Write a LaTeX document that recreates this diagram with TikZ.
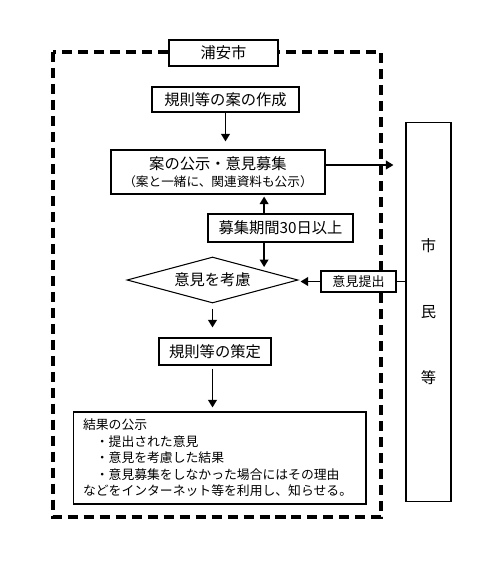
\documentclass[tikz,border=0pt]{standalone}
\usepackage{fontspec}
\setmainfont{Noto Sans CJK JP}
\usetikzlibrary{arrows.meta,shapes.geometric,calc}

\tikzset{
  box/.style={draw, line width=0.6pt, fill=white, inner sep=0pt, align=center,
    font=\fontsize{8.7}{10}\selectfont},
  arr/.style={line width=1.1pt, -{Triangle[length=0.15cm,width=0.17cm]}},
}

\begin{document}
\begin{tikzpicture}[x=0.02cm, y=-0.02cm]
\useasboundingbox (0,0) rectangle (500,565);

% cadre en pointilles
\draw[line width=2.1pt, dash pattern=on 5.7pt off 3.4pt] (53,52) rectangle (381,517);

\node[box, minimum width=2.18cm, minimum height=0.52cm] (city) at (223.5,53) {浦安市};
\node[box, minimum width=2.94cm, minimum height=0.5cm] (draft) at (225.5,99.5) {規則等の案の作成};
\node[box, minimum width=4.28cm, minimum height=0.88cm] (publish) at (218,172)
  {案の公示・意見募集\\[-0.5pt]{\fontsize{7.2}{8}\selectfont（案と一緒に、関連資料も公示）}};
\node[box, minimum width=2.9cm, minimum height=0.56cm] (period) at (280.5,228) {募集期間30日以上};
\node[box, diamond, aspect=3.7, minimum width=3.42cm, minimum height=0.92cm] (judge) at (212.5,280) {意見を考慮};
\node[box, minimum width=1.5cm, minimum height=0.42cm, font=\fontsize{7.4}{9}\selectfont] (submit) at (358.5,281.5) {意見提出};
\node[box, minimum width=2.24cm, minimum height=0.54cm] (decide) at (215,351.5) {規則等の策定};
\node[box, minimum width=5.86cm, minimum height=1.84cm, inner xsep=0.2cm, text width=5.46cm, align=left,
  font=\fontsize{7.3}{9.4}\selectfont] (result) at (219.5,458)
  {結果の公示\\　・提出された意見\\　・意見を考慮した結果\\　・意見募集をしなかった場合にはその理由\\などをインターネット等を利用し、知らせる。};
\node[box, minimum width=0.9cm, minimum height=7.6cm] (citizens) at (428.5,312) {市\\[0.97cm]民\\[0.97cm]等};

% fleches
\coordinate (kp) at ($(judge.north)!0.6!(judge.east)$);
\draw[arr, shorten >=0.16cm] (draft.south) -- (draft.south |- publish.north);
\draw[arr, shorten >=0.24cm] ([yshift=0.14cm]publish.east) -- ([yshift=0.14cm]publish.east -| citizens.west);
\draw[arr, shorten >=0.04cm] (kp |- period.north) -- (kp |- publish.south);
\draw[arr, shorten >=0.07cm] (kp |- period.south) -- (kp);
\draw[line width=1.1pt] (citizens.west |- submit.east) -- (submit.east);
\draw[arr, shorten >=0.04cm] (submit.west) -- (submit.west -| judge.east);
\draw[arr, shorten <=0.1cm, shorten >=0.2cm] (judge.south) -- (judge.south |- decide.north);
\draw[arr, shorten <=0.06cm, shorten >=0.08cm] (judge.south |- decide.south) -- (judge.south |- result.north);
\end{tikzpicture}
\end{document}
